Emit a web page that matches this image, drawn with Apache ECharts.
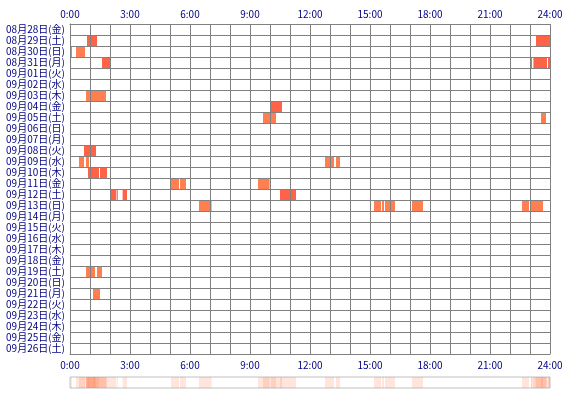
<!DOCTYPE html>
<html><head><meta charset="utf-8">
<script src="https://cdn.jsdelivr.net/npm/echarts@6/dist/echarts.min.js"></script>
<style>html,body{margin:0;padding:0;background:#fff}#c{width:570px;height:400px}</style>
</head><body><div id="c"></div>
<script>
const dates = ['08月28日(金)','08月29日(土)','08月30日(日)','08月31日(月)','09月01日(火)','09月02日(水)','09月03日(木)','09月04日(金)','09月05日(土)','09月06日(日)','09月07日(月)','09月08日(火)','09月09日(水)','09月10日(木)','09月11日(金)','09月12日(土)','09月13日(日)','09月14日(月)','09月15日(火)','09月16日(水)','09月17日(木)','09月18日(金)','09月19日(土)','09月20日(日)','09月21日(月)','09月22日(火)','09月23日(水)','09月24日(木)','09月25日(金)','09月26日(土)'];
const hourTickLabels = ['0:00','3:00','6:00','9:00','12:00','15:00','18:00','21:00','24:00'];
// [dayIndex, startHour, endHour]
const sleepTomato = [
  [1,0.85,1.35],[1,23.3,24],
  [3,1.6,2.0],[3,23.05,23.1],[3,23.17,23.85],[3,23.9,24],
  [7,10.05,10.6],
  [11,0.7,1.3],
  [13,0.9,1.45],[13,1.5,1.85],
  [15,2.0,2.32],[15,2.36,2.4],[15,2.63,2.85],[15,10.5,11.3]
];
const sleepCoral = [
  [2,0.03,0.1],[2,0.3,0.75],
  [6,0.8,1.8],
  [8,9.65,10.3],[8,23.55,23.8],
  [12,0.45,0.7],[12,0.8,0.95],[12,12.75,13.2],[12,13.3,13.5],
  [14,5.05,5.45],[14,5.5,5.8],[14,9.4,9.98],
  [16,6.45,7.08],[16,15.2,15.55],[16,15.6,15.7],[16,15.75,16.25],[16,17.1,17.65],[16,22.6,22.95],[16,23.05,23.65],
  [22,0.8,1.25],[22,1.35,1.6],
  [24,1.15,1.5]
];

const FONT = '"Noto Sans CJK JP", sans-serif';
const NAVY = '#000080';
const GRIDC = '#808080';

function renderBar(params, api) {
  const row = api.value(0), s = api.value(1), e = api.value(2);
  const p0 = api.coord([s, row]);
  const p1 = api.coord([e, row]);
  const h = api.size([0, 1])[1];
  return {
    type: 'rect',
    shape: { x: p0[0], y: p0[1] - h / 2, width: p1[0] - p0[0], height: h },
    style: { fill: api.visual('color') }
  };
}
function renderBand(params, api) {
  const s = api.value(1), e = api.value(2);
  const p0 = api.coord([s, 1]);
  const p1 = api.coord([e, 0]);
  return {
    type: 'rect',
    shape: { x: p0[0], y: p0[1], width: p1[0] - p0[0], height: p1[1] - p0[1] },
    style: { fill: 'rgba(255,127,80,0.2)' }
  };
}
const labelFmt = v => (v % 3 === 0 ? hourTickLabels[v / 3] : '');
const allSegs = sleepTomato.concat(sleepCoral);

const chart = echarts.init(document.getElementById('c'), null, { renderer: 'canvas' });
chart.setOption({
  animation: false,
  backgroundColor: '#fff',
  textStyle: { fontFamily: FONT },
  grid: [
    { left: 70, top: 24, width: 480, height: 330 },
    { left: 70, top: 377, width: 480, height: 11, show: true, borderColor: '#c0c0c0', borderWidth: 1, backgroundColor: '#fff' }
  ],
  xAxis: [
    { gridIndex: 0, type: 'value', position: 'top', min: 0, max: 24, interval: 1, z: 10,
      axisLine: { show: true, lineStyle: { color: GRIDC } }, axisTick: { show: false },
      axisLabel: { formatter: labelFmt, color: NAVY, fontSize: 10, fontFamily: FONT, margin: 5, showMinLabel: true, showMaxLabel: true },
      splitLine: { show: true, lineStyle: { color: GRIDC, width: 1 } } },
    { gridIndex: 0, type: 'value', position: 'bottom', min: 0, max: 24, interval: 1, z: 10,
      axisLine: { show: true, lineStyle: { color: GRIDC } }, axisTick: { show: false },
      axisLabel: { formatter: labelFmt, color: NAVY, fontSize: 10, fontFamily: FONT, margin: 6, showMinLabel: true, showMaxLabel: true },
      splitLine: { show: false } },
    { gridIndex: 1, type: 'value', min: 0, max: 24, show: false }
  ],
  yAxis: [
    { gridIndex: 0, type: 'category', data: dates, inverse: true, z: 10,
      axisLine: { show: true, lineStyle: { color: GRIDC } }, axisTick: { show: false, interval: 0 },
      axisLabel: { interval: 0, color: NAVY, fontSize: 10, fontFamily: FONT, margin: 5 },
      splitLine: { show: true, interval: 0, lineStyle: { color: GRIDC, width: 1 } } },
    { gridIndex: 1, type: 'value', min: 0, max: 1, show: false }
  ],
  series: [
    { type: 'custom', name: 'A', xAxisIndex: 0, yAxisIndex: 0, renderItem: renderBar,
      itemStyle: { color: '#FF6347' }, encode: { x: [1, 2], y: 0 }, data: sleepTomato, z: 2 },
    { type: 'custom', name: 'B', xAxisIndex: 0, yAxisIndex: 0, renderItem: renderBar,
      itemStyle: { color: '#FF7F50' }, encode: { x: [1, 2], y: 0 }, data: sleepCoral, z: 2 },
    { type: 'custom', name: 'sum', xAxisIndex: 2, yAxisIndex: 1, renderItem: renderBand,
      encode: { x: [1, 2] }, data: allSegs, z: 2 }
  ]
});
</script></body></html>
